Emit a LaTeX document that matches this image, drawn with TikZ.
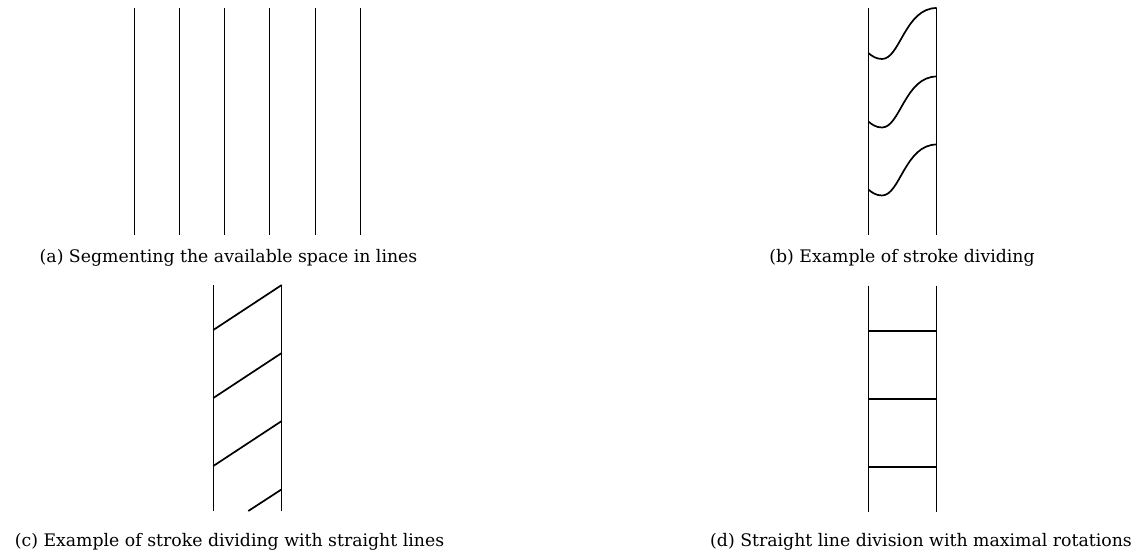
\documentclass[tikz,border=0pt]{standalone}
\usepackage{fontspec}
\setmainfont{DejaVu Serif}
\begin{document}
\begin{tikzpicture}[x=1pt,y=-1pt,
  rail/.style={line width=0.9pt},
  cut/.style={line width=1.7pt, line join=round},
  caption/.style={anchor=base, inner sep=0pt, font=\fontsize{17.3}{21}\selectfont}]
\useasboundingbox (0,0) rectangle (1145,555);

% (a) parallel lines segmenting the space
\foreach \x in {134,179.3,224.6,269.8,315.2,360.5}
  \draw[rail] (\x,8) -- (\x,235);
\node[caption] (capa) at (228.5,262.5) {(a) Segmenting the available space in lines};

% (b) band with curved stroke divisions
\draw[rail] (868.3,8) -- (868.3,235);
\draw[rail] (936.7,8) -- (936.7,235);
\foreach \y in {8,76.5,144.5}
  \draw[cut] (936.7,\y) .. controls (905,\y) and (900,\y+51) .. (882,\y+51)
             .. controls (876,\y+51) and (872,\y+48) .. (868.3,\y+45);
\node[caption] (capb) at (902,262.5) {(b) Example of stroke dividing};

% (c) band divided by slanted straight strokes
\draw[rail] (213.3,285) -- (213.3,511);
\draw[rail] (281.7,285) -- (281.7,511);
\foreach \y in {330,398,466}
  \draw[cut] (213.3,\y) -- (281.7,\y-45);
\draw[cut] (248.3,511) -- (281.7,489.3);
\node[caption] (capc) at (229.5,546.5) {(c) Example of stroke dividing with straight lines};

% (d) band divided by horizontal strokes
\draw[rail] (868.3,285.5) -- (868.3,511.7);
\draw[rail] (936.7,285.5) -- (936.7,511.7);
\foreach \y in {330.7,398.7,466.7}
  \draw[cut] (868.3,\y) -- (936.7,\y);
\node[caption] (capd) at (921,546.5) {(d) Straight line division with maximal rotations};
\end{tikzpicture}
\end{document}
